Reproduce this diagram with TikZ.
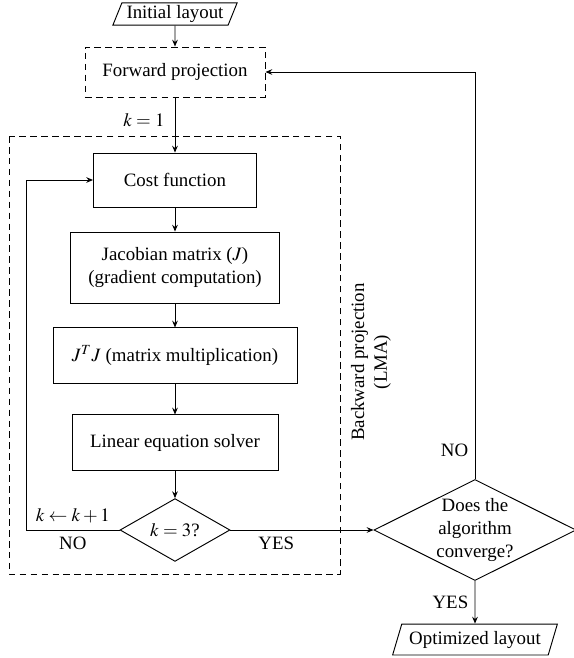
\documentclass[tikz,border=0pt]{standalone}
\usepackage{mathptmx}
\usepackage{fontspec}
\setmainfont{Liberation Serif}
\usetikzlibrary{arrows,arrows.meta,shapes.geometric,calc}

\begin{document}
\begin{tikzpicture}[x=0.53pt,y=-0.53pt,line width=0.5pt,>={Stealth[length=3.6pt,width=3pt,inset=1.2pt]},font=\fontsize{10}{12}\selectfont]
\tikzstyle{block}=[draw,rectangle,align=center,inner sep=2pt]
\tikzstyle{io}=[draw,trapezium,trapezium left angle=68,trapezium right angle=112,trapezium stretches=true,inner sep=1pt]
\tikzstyle{decide}=[draw,diamond,align=center,inner sep=0pt]
\tikzstyle{group}=[dash pattern=on 3.5pt off 2.3pt]
\useasboundingbox (0,0) rectangle (574,658);
% input and forward step
\node[io,minimum width=66pt,minimum height=11.7pt] (init) at (175,14) {Initial layout};
\node[block,group,minimum width=95.4pt,minimum height=26.5pt] (fwd) at (175,72) {Forward projection};
% backward projection (LMA)
\draw[group] (9,136) rectangle (340,574);
\node[rotate=90,align=center] (bwd) at (371,362) {Backward projection\\(LMA)};
\node[block,minimum width=86.4pt,minimum height=28.6pt] (cost) at (175,180) {Cost function};
\node[block,minimum width=110.8pt,minimum height=37.6pt] (jac) at (175,267.5) {Jacobian matrix ($J$)\\(gradient computation)};
\node[block,minimum width=129.3pt,minimum height=29.2pt] (jtj) at (175,355.5) {$J^TJ$ (matrix multiplication)};
\node[block,minimum width=109.2pt,minimum height=29.2pt] (solve) at (175,442.5) {Linear equation solver};
\node[decide,minimum width=58.3pt,minimum height=28.6pt] (chk) at (175,530) {$k=3$?};
\coordinate (back) at (26,530);
% convergence test and output
\node[decide,shape aspect=2,minimum width=107pt,minimum height=53.5pt] (conv) at (475,530) {Does the\\algorithm\\converge?};
\node[io,minimum width=88pt,minimum height=16.4pt] (opt) at (475,639.5) {Optimized layout};

\draw[->] (init) -- (fwd);
\draw[->] (fwd) -- node[pos=0.41,left=2pt] {$k=1$} (cost);
\draw[->] (cost) -- (jac);
\draw[->] (jac) -- (jtj);
\draw[->] (jtj) -- (solve);
\draw[->] (solve) -- (chk);
\draw[->] (chk.west) -- node[above] {$k\leftarrow k+1$} node[below] {NO} (back) |- (cost.west);
\draw[->] (chk.east) -- node[pos=0.32,below] {YES} (conv.west);
\draw[->] (conv.north) |- node[pos=0.035,left] {NO} (fwd.east);
\draw[->] (conv.south) -- node[left] {YES} (opt);
\end{tikzpicture}
\end{document}
